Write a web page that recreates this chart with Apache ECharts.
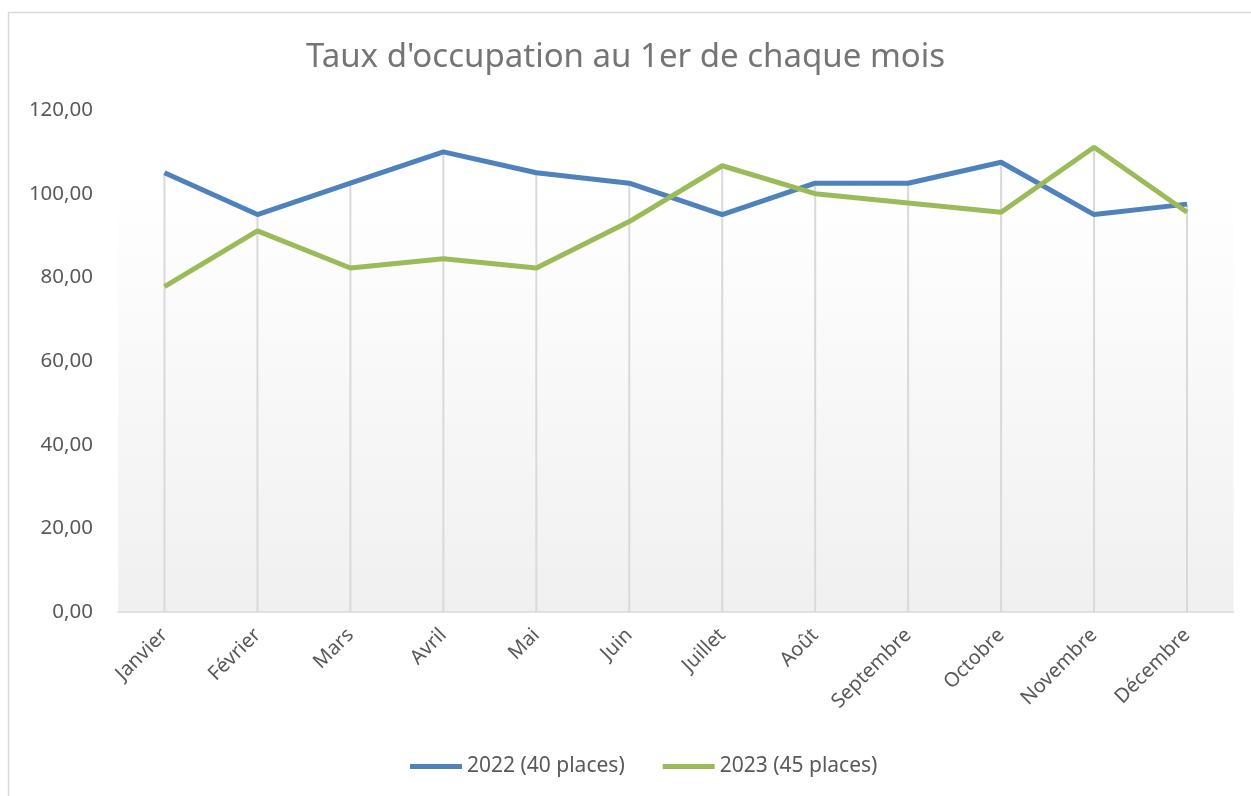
<!DOCTYPE html>
<html>
<head>
  <meta charset="UTF-8">
  <script src="https://cdn.jsdelivr.net/npm/echarts@6/dist/echarts.min.js"></script>
  <style>
    html, body { margin: 0; padding: 0; background: #fff; }
    #main { width: 1251px; height: 796px; }
  </style>
</head>
<body>
  <div id="main"></div>
  <script>
    // données
    var mois = ['Janvier', 'Février', 'Mars', 'Avril', 'Mai', 'Juin', 'Juillet', 'Août', 'Septembre', 'Octobre', 'Novembre', 'Décembre'];
    var taux2022 = [105, 95, 102.5, 110, 105, 102.5, 95, 102.5, 102.5, 107.5, 95, 97.5];
    var taux2023 = [77.78, 91.11, 82.22, 84.44, 82.22, 93.33, 106.67, 100, 97.78, 95.56, 111.11, 95.56];
    var yTicks = [0, 20, 40, 60, 80, 100, 120];

    // lignes de projection (drop lines) : du point le plus haut jusqu'à l'axe
    var dropLines = mois.map(function (m, i) {
      return Math.max(taux2022[i], taux2023[i]);
    });

    var font = '"Noto Sans", "Open Sans", sans-serif';
    var myChart = echarts.init(document.getElementById('main'));

    myChart.setOption({
      animation: false,
      textStyle: { fontFamily: font },
      title: {
        text: "Taux d'occupation au 1er de chaque mois",
        left: 'center',
        top: 36,
        textStyle: { fontFamily: font, fontSize: 33, fontWeight: 'normal', color: '#757575' }
      },
      graphic: [{
        type: 'rect',
        shape: { x: 8.5, y: 12.5, width: 1400, height: 1000 },
        style: { fill: 'none', stroke: '#d9d9d9', lineWidth: 1.5 },
        silent: true,
        z: -10
      }],
      legend: {
        data: ['2022 (40 places)', '2023 (45 places)'],
        bottom: 14,
        left: 405,
        itemWidth: 52,
        itemHeight: 5,
        itemGap: 38,
        icon: 'rect',
        textStyle: { fontFamily: font, fontSize: 21, color: '#595959' }
      },
      grid: {
        left: 118,
        right: 17.5,
        top: 110,
        bottom: 184,
        show: true,
        borderWidth: 0,
        backgroundColor: new echarts.graphic.LinearGradient(0, 0, 0, 1, [
          { offset: 0, color: '#ffffff' },
          { offset: 0.15, color: '#ffffff' },
          { offset: 1, color: '#f0f0f0' }
        ])
      },
      xAxis: {
        type: 'category',
        data: mois,
        boundaryGap: true,
        axisLine: { lineStyle: { color: '#d9d9d9', width: 1.5 } },
        axisTick: { show: false },
        axisLabel: {
          rotate: 45,
          interval: 0,
          margin: 20,
          fontFamily: font,
          fontSize: 20,
          color: '#595959'
        },
        splitLine: { show: false }
      },
      yAxis: {
        type: 'value',
        min: yTicks[0],
        max: yTicks[yTicks.length - 1],
        interval: 20,
        axisLine: { show: false },
        axisTick: { show: false },
        splitLine: { show: false },
        axisLabel: {
          margin: 25,
          fontFamily: font,
          fontSize: 20.5,
          color: '#595959',
          formatter: function (v) { return v.toFixed(2).replace('.', ','); }
        }
      },
      series: [
        {
          name: 'drop',
          type: 'bar',
          data: dropLines,
          barWidth: 2,
          silent: true,
          itemStyle: { color: '#d9d9d9' },
          z: 1
        },
        {
          name: '2022 (40 places)',
          type: 'line',
          data: taux2022,
          symbol: 'none',
          lineStyle: { color: '#4f81bd', width: 5 },
          itemStyle: { color: '#4f81bd' },
          z: 3
        },
        {
          name: '2023 (45 places)',
          type: 'line',
          data: taux2023,
          symbol: 'none',
          lineStyle: { color: '#9bbb59', width: 5 },
          itemStyle: { color: '#9bbb59' },
          z: 4
        }
      ]
    });
  </script>
</body>
</html>
